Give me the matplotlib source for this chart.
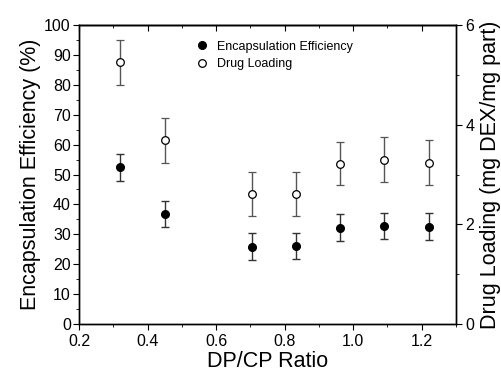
import matplotlib
matplotlib.use('Agg')
import numpy as np
import matplotlib.pyplot as plt
from matplotlib import rcParams
from matplotlib.ticker import MultipleLocator

rcParams.update({
    'font.family': ['Liberation Sans', 'DejaVu Sans'],
    'axes.linewidth': 1.0,
})

# DP/CP ratio
ratio = [0.32, 0.45, 0.705, 0.833, 0.961, 1.09, 1.222]
# encapsulation efficiency (%)
ee = [52.5, 36.8, 25.9, 26.1, 32.2, 32.9, 32.6]
ee_err = [4.5, 4.5, 4.5, 4.4, 4.5, 4.4, 4.5]
# drug loading (mg DEX / mg part)
dl = [5.25, 3.69, 2.61, 2.61, 3.22, 3.30, 3.24]
dl_err = [0.45, 0.45, 0.45, 0.45, 0.44, 0.45, 0.45]

fig = plt.figure(figsize=(5.01, 3.79), dpi=100)
ax = fig.add_axes([0.158, 0.145, 0.752, 0.789])
ax2 = ax.twinx()

ax.errorbar(ratio, ee, yerr=ee_err, fmt='o', color='k', ecolor='#333333',
            markersize=5.5, capsize=3, elinewidth=1, capthick=1,
            label='Encapsulation Efficiency')
ax2.errorbar(ratio, dl, yerr=dl_err, fmt='o', color='k', ecolor='#555555',
             markerfacecolor='white', markeredgecolor='k', markeredgewidth=0.9,
             markersize=5.5, capsize=3, elinewidth=1, capthick=1,
             label='Drug Loading')

ax.set_xlim(0.2, 1.3)
ax.set_ylim(0, 100)
ax2.set_ylim(0, 6)

ax.xaxis.set_major_locator(MultipleLocator(0.2))
ax.xaxis.set_minor_locator(MultipleLocator(0.1))
ax.yaxis.set_major_locator(MultipleLocator(10))
ax.yaxis.set_minor_locator(MultipleLocator(5))
ax2.yaxis.set_major_locator(MultipleLocator(2))
ax2.yaxis.set_minor_locator(MultipleLocator(1))

ax.tick_params(axis='x', which='both', labelsize=11.5, direction='out')
ax.tick_params(axis='x', which='major', length=4)
ax.tick_params(axis='x', which='minor', length=2.5)
ax.tick_params(axis='y', which='major', length=4, labelsize=11.5, direction='out', pad=2)
ax.tick_params(axis='y', which='minor', length=2.5, direction='out')
ax2.tick_params(axis='y', which='major', length=4, labelsize=11.5, direction='out', pad=3)
ax2.tick_params(axis='y', which='minor', length=2.5, direction='out')

# top axis: ticks pointing inward, no labels
top = ax.secondary_xaxis('top')
top.xaxis.set_major_locator(MultipleLocator(0.2))
top.xaxis.set_minor_locator(MultipleLocator(0.1))
top.tick_params(axis='x', which='major', direction='in', length=4, labeltop=False)
top.tick_params(axis='x', which='minor', direction='in', length=2.5)

ax.set_xlabel('DP/CP Ratio', fontsize=15.5, labelpad=1)
ax.set_ylabel('Encapsulation Efficiency (%)', fontsize=15.5, labelpad=2)
ax2.set_ylabel('Drug Loading (mg DEX/mg part)', fontsize=15.5, labelpad=4)

h1, l1 = ax.get_legend_handles_labels()
h2, l2 = ax2.get_legend_handles_labels()
handles = [h1[0][0], h2[0][0]]
ax.legend(handles, l1 + l2, loc='upper left', bbox_to_anchor=(0.28, 0.985),
          frameon=False, fontsize=9, handletextpad=0.7, labelspacing=0.45,
          handlelength=1.0)

fig.savefig('out.png', dpi=100)
